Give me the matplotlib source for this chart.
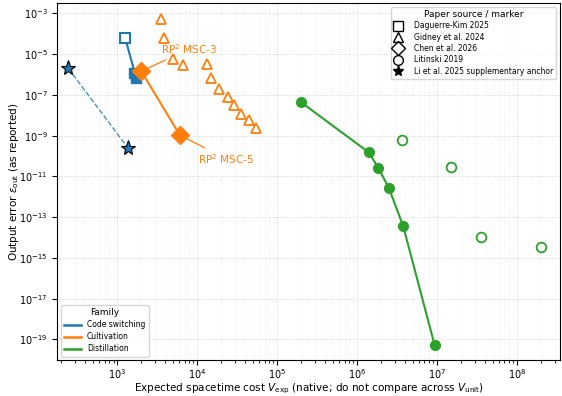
import matplotlib.pyplot as plt
from matplotlib.lines import Line2D

# Code switching (Daguerre-Kim 2025, squares)
cs_open_x = [1.26e3]
cs_open_y = [6.1e-5]
cs_fill_x = [1.63e3, 1.73e3]
cs_fill_y = [1.2e-6, 6.6e-7]

# Li et al. 2025 supplementary anchor (stars)
li_x = [245, 1.37e3]
li_y = [2.0e-6, 2.4e-10]

# Cultivation: Chen et al. 2026 (diamonds)
chen_x = [2.0e3, 6.1e3]
chen_y = [1.45e-6, 1.05e-9]
chen_labels = ["RP$^2$ MSC-3", "RP$^2$ MSC-5"]

# Cultivation: Gidney et al. 2024 (open triangles)
gid_x = [3.5e3, 3.87e3, 5.0e3, 6.7e3, 1.33e4, 1.47e4, 1.86e4, 2.46e4, 2.9e4, 3.5e4, 4.4e4, 5.5e4]
gid_y = [5.6e-4, 6.3e-5, 6.1e-6, 2.9e-6, 3.2e-6, 6.9e-7, 2.0e-7, 7.7e-8, 3.2e-8, 1.1e-8, 5.8e-9, 2.4e-9]

# Distillation: Litinski 2019 (circles)
dist_fill_x = [1.98e5, 1.41e6, 1.85e6, 2.5e6, 3.8e6, 9.4e6]
dist_fill_y = [4.5e-8, 1.5e-10, 2.6e-11, 2.8e-12, 3.5e-14, 5e-20]
dist_open_x = [3.7e6, 1.5e7, 3.6e7, 2.0e8]
dist_open_y = [6.4e-10, 2.8e-11, 1.1e-14, 3.3e-15]

blue, orange, green = "#1f77b4", "#ff7f0e", "#2ca02c"

fig, ax = plt.subplots(figsize=(5.62, 3.96), dpi=100)
ax.set_xscale("log")
ax.set_yscale("log")

# code switching
ax.plot(cs_open_x + cs_fill_x[1:], cs_open_y + cs_fill_y[1:], color=blue, lw=1.5, zorder=2)
ax.plot(cs_open_x, cs_open_y, "s", ms=7, mfc="white", mec=blue, mew=1.5, zorder=3)
ax.plot(cs_fill_x, cs_fill_y, "s", ms=7, color=blue, zorder=3)
ax.plot(li_x, li_y, "--", color=blue, lw=1.0, alpha=0.8, zorder=2)
ax.plot(li_x, li_y, "*", ms=11, mfc=blue, mec="black", mew=0.8, zorder=4)

# cultivation
ax.plot(gid_x, gid_y, "^", ms=7, mfc="none", mec=orange, mew=1.3, ls="none", zorder=3)
ax.plot(chen_x, chen_y, "D-", color=orange, ms=9, lw=1.5, zorder=4)
ax.annotate(chen_labels[0], xy=(chen_x[0], chen_y[0]), xytext=(14, 11), textcoords="offset points",
            color=orange, fontsize=7.5, va="bottom",
            arrowprops=dict(arrowstyle="-", color=orange, lw=0.9))
ax.annotate(chen_labels[1], xy=(chen_x[1], chen_y[1]), xytext=(13, -12), textcoords="offset points",
            color=orange, fontsize=7.5, va="top",
            arrowprops=dict(arrowstyle="-", color=orange, lw=0.9))

# distillation
ax.plot(dist_fill_x, dist_fill_y, "o-", color=green, ms=7, lw=1.5, zorder=3)
ax.plot(dist_open_x, dist_open_y, "o", ms=7, mfc="white", mec=green, mew=1.3, ls="none", zorder=3)

ax.set_xlim(178, 3.45e8)
ax.set_ylim(9.3e-21, 3.2e-3)
ax.set_xticks([10.0 ** e for e in range(3, 9)])
ax.set_yticks([10.0 ** e for e in range(-19, -2, 2)])
ax.grid(True, which="major", ls=":", lw=0.6, color="#cccccc")
ax.grid(True, which="minor", ls=":", lw=0.4, color="#e3e3e3")
ax.tick_params(labelsize=7)
ax.tick_params(axis="x", which="major", pad=1.5)
ax.set_xlabel(r"Expected spacetime cost $V_{\rm exp}$ (native; do not compare across $V_{\rm unit}$)",
              fontsize=7.5, labelpad=0.5)
ax.set_ylabel(r"Output error $\varepsilon_{\rm out}$ (as reported)", fontsize=7.5, labelpad=-1)

src_handles = [
    Line2D([], [], marker="s", ls="none", mfc="none", mec="black", ms=7),
    Line2D([], [], marker="^", ls="none", mfc="none", mec="black", ms=7),
    Line2D([], [], marker="D", ls="none", mfc="none", mec="black", ms=7),
    Line2D([], [], marker="o", ls="none", mfc="none", mec="black", ms=7),
    Line2D([], [], marker="*", ls="none", color="black", ms=8),
]
src_labels = ["Daguerre-Kim 2025", "Gidney et al. 2024", "Chen et al. 2026",
              "Litinski 2019", "Li et al. 2025 supplementary anchor"]
leg1 = ax.legend(src_handles, src_labels, title="Paper source / marker", loc="upper right",
                 fontsize=5.5, title_fontsize=6.5, handletextpad=1.4, labelspacing=0.3,
                 borderpad=0.4, handlelength=1.2)
ax.add_artist(leg1)

fam_handles = [Line2D([], [], color=c, lw=1.8) for c in (blue, orange, green)]
ax.legend(fam_handles, ["Code switching", "Cultivation", "Distillation"], title="Family",
          loc="lower left", fontsize=5.5, title_fontsize=6.5, labelspacing=0.4, handlelength=2.2)

fig.subplots_adjust(left=0.102, right=0.996, top=0.992, bottom=0.09)
fig.savefig("out.png")
